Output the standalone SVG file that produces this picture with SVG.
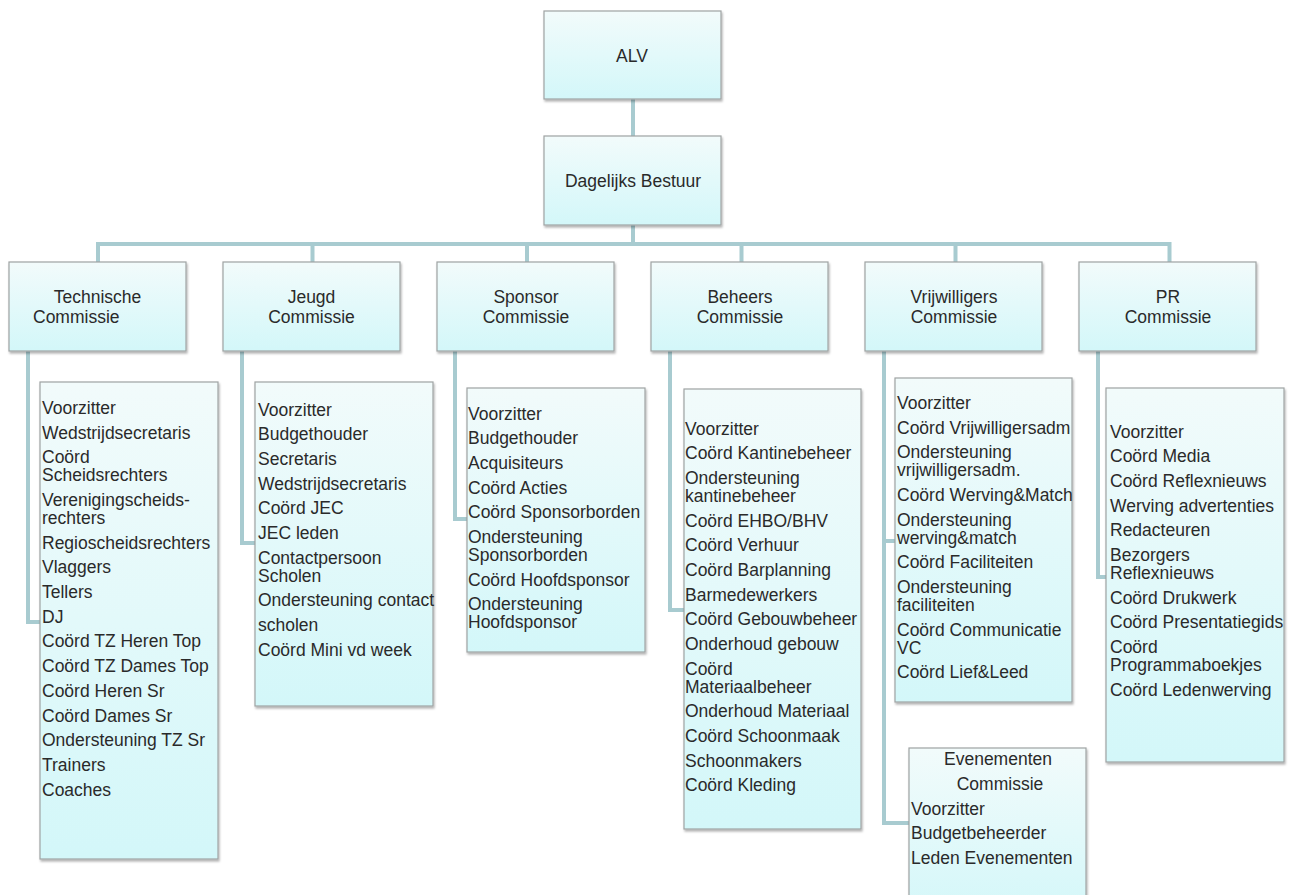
<svg xmlns="http://www.w3.org/2000/svg" width="1297" height="895" viewBox="0 0 1297 895">
<style>
.box{fill:url(#g);stroke:#9fa3a3;stroke-width:1.2;filter:url(#sh)}
.con{fill:none;stroke:#a8cbd0;stroke-width:4}
text{font-family:"Liberation Sans",Arial,sans-serif;font-size:17.5px;fill:#2a2a2a}
.c{text-anchor:middle}
</style>
<defs>
<linearGradient id="g" x1="0" y1="0" x2="0" y2="1">
<stop offset="0" stop-color="#f2fbfb"/>
<stop offset="1" stop-color="#d3f7f9"/>
</linearGradient>
<filter id="sh" x="-5%" y="-5%" width="115%" height="115%">
<feDropShadow dx="1" dy="2" stdDeviation="1.2" flood-color="#000" flood-opacity="0.3"/>
</filter>
</defs>
<rect width="1297" height="895" fill="#ffffff"/>
<g id="connectors">
<path class="con" d="M633,99 V136"/>
<path class="con" d="M633,225 V244"/>
<path class="con" d="M98,262 V244 H1169.5 V262"/>
<path class="con" d="M312.5,244 V262 M527,244 V262 M741.5,244 V262 M955.5,244 V262"/>
<path class="con" d="M28,351 V622 H40"/>
<path class="con" d="M242,351 V543 H255"/>
<path class="con" d="M455,351 V519 H467"/>
<path class="con" d="M670,351 V610 H684"/>
<path class="con" d="M884,351 V823 H909"/>
<path class="con" d="M884,541 H895"/>
<path class="con" d="M1098,351 V577 H1106"/>
</g>
<g id="alv">
<rect class="box" x="544" y="11" width="177" height="88"/>
<text class="c" x="632" y="62">ALV</text>
</g>
<g id="dagelijks-bestuur">
<rect class="box" x="544" y="136" width="177" height="89"/>
<text class="c" x="633" y="187">Dagelijks Bestuur</text>
</g>
<g id="technische-commissie">
<rect class="box" x="9" y="262" width="177" height="89"/>
<text class="c" x="97.5" y="303">Technische</text>
<text x="33" y="323">Commissie</text>
</g>
<g id="jeugd-commissie">
<rect class="box" x="223" y="262" width="177" height="89"/>
<text class="c" x="311.5" y="303">Jeugd</text>
<text class="c" x="311.5" y="323">Commissie</text>
</g>
<g id="sponsor-commissie">
<rect class="box" x="437" y="262" width="177" height="89"/>
<text class="c" x="526" y="303">Sponsor</text>
<text class="c" x="526" y="323">Commissie</text>
</g>
<g id="beheers-commissie">
<rect class="box" x="651" y="262" width="177" height="89"/>
<text class="c" x="740" y="303">Beheers</text>
<text class="c" x="740" y="323">Commissie</text>
</g>
<g id="vrijwilligers-commissie">
<rect class="box" x="865" y="262" width="177" height="89"/>
<text class="c" x="954" y="303">Vrijwilligers</text>
<text class="c" x="954" y="323">Commissie</text>
</g>
<g id="pr-commissie">
<rect class="box" x="1079" y="262" width="177" height="89"/>
<text class="c" x="1168" y="303">PR</text>
<text class="c" x="1168" y="323">Commissie</text>
</g>
<g id="technische-leden">
<rect class="box" x="40" y="382" width="178" height="477"/>
<text x="42" y="414">Voorzitter</text>
<text x="42" y="438.7">Wedstrijdsecretaris</text>
<text x="42" y="463.4">Coörd</text>
<text x="42" y="481.3">Scheidsrechters</text>
<text x="42" y="506">Verenigingscheids-</text>
<text x="42" y="523.9">rechters</text>
<text x="42" y="548.6">Regioscheidsrechters</text>
<text x="42" y="573.3">Vlaggers</text>
<text x="42" y="598">Tellers</text>
<text x="42" y="622.7">DJ</text>
<text x="42" y="647.4">Coörd TZ Heren Top</text>
<text x="42" y="672.1">Coörd TZ Dames Top</text>
<text x="42" y="696.8">Coörd Heren Sr</text>
<text x="42" y="721.5">Coörd Dames Sr</text>
<text x="42" y="746.2">Ondersteuning TZ Sr</text>
<text x="42" y="770.9">Trainers</text>
<text x="42" y="795.6">Coaches</text>
</g>
<g id="jeugd-leden">
<rect class="box" x="255" y="382" width="178" height="324"/>
<text x="258" y="415.5">Voorzitter</text>
<text x="258" y="440.2">Budgethouder</text>
<text x="258" y="464.9">Secretaris</text>
<text x="258" y="489.6">Wedstrijdsecretaris</text>
<text x="258" y="514.3">Coörd JEC</text>
<text x="258" y="539">JEC leden</text>
<text x="258" y="563.7">Contactpersoon</text>
<text x="258" y="581.6">Scholen</text>
<text x="258" y="606.3">Ondersteuning contact</text>
<text x="258" y="631">scholen</text>
<text x="258" y="655.7">Coörd Mini vd week</text>
</g>
<g id="sponsor-leden">
<rect class="box" x="467" y="388" width="178" height="264"/>
<text x="468" y="419.5">Voorzitter</text>
<text x="468" y="444.2">Budgethouder</text>
<text x="468" y="468.9">Acquisiteurs</text>
<text x="468" y="493.6">Coörd Acties</text>
<text x="468" y="518.3">Coörd Sponsorborden</text>
<text x="468" y="543">Ondersteuning</text>
<text x="468" y="560.9">Sponsorborden</text>
<text x="468" y="585.6">Coörd Hoofdsponsor</text>
<text x="468" y="610.3">Ondersteuning</text>
<text x="468" y="628.2">Hoofdsponsor</text>
</g>
<g id="beheers-leden">
<rect class="box" x="684" y="389" width="177" height="440"/>
<text x="685" y="434.5">Voorzitter</text>
<text x="685" y="459.2">Coörd Kantinebeheer</text>
<text x="685" y="483.9">Ondersteuning</text>
<text x="685" y="501.8">kantinebeheer</text>
<text x="685" y="526.5">Coörd EHBO/BHV</text>
<text x="685" y="551.2">Coörd Verhuur</text>
<text x="685" y="575.9">Coörd Barplanning</text>
<text x="685" y="600.6">Barmedewerkers</text>
<text x="685" y="625.3">Coörd Gebouwbeheer</text>
<text x="685" y="650">Onderhoud gebouw</text>
<text x="685" y="674.7">Coörd</text>
<text x="685" y="692.6">Materiaalbeheer</text>
<text x="685" y="717.3">Onderhoud Materiaal</text>
<text x="685" y="742">Coörd Schoonmaak</text>
<text x="685" y="766.7">Schoonmakers</text>
<text x="685" y="791.4">Coörd Kleding</text>
</g>
<g id="vrijwilligers-leden">
<rect class="box" x="895" y="378" width="177" height="324"/>
<text x="897" y="409">Voorzitter</text>
<text x="897" y="433.7">Coörd Vrijwilligersadm</text>
<text x="897" y="458.4">Ondersteuning</text>
<text x="897" y="476.3">vrijwilligersadm.</text>
<text x="897" y="501">Coörd Werving&amp;Match</text>
<text x="897" y="525.7">Ondersteuning</text>
<text x="897" y="543.6">werving&amp;match</text>
<text x="897" y="568.3">Coörd Faciliteiten</text>
<text x="897" y="593">Ondersteuning</text>
<text x="897" y="610.9">faciliteiten</text>
<text x="897" y="635.6">Coörd Communicatie</text>
<text x="897" y="653.5">VC</text>
<text x="897" y="678.2">Coörd Lief&amp;Leed</text>
</g>
<g id="pr-leden">
<rect class="box" x="1106" y="388" width="178" height="374"/>
<text x="1110" y="437.5">Voorzitter</text>
<text x="1110" y="462.2">Coörd Media</text>
<text x="1110" y="486.9">Coörd Reflexnieuws</text>
<text x="1110" y="511.6">Werving advertenties</text>
<text x="1110" y="536.3">Redacteuren</text>
<text x="1110" y="561">Bezorgers</text>
<text x="1110" y="578.9">Reflexnieuws</text>
<text x="1110" y="603.6">Coörd Drukwerk</text>
<text x="1110" y="628.3">Coörd Presentatiegids</text>
<text x="1110" y="653">Coörd</text>
<text x="1110" y="670.9">Programmaboekjes</text>
<text x="1110" y="695.6">Coörd Ledenwerving</text>
</g>
<g id="evenementen-commissie">
<rect class="box" x="909" y="748" width="177" height="170"/>
<text class="c" x="998" y="765">Evenementen</text>
<text class="c" x="1000" y="790">Commissie</text>
<text x="911" y="814.5">Voorzitter</text>
<text x="911" y="839">Budgetbeheerder</text>
<text x="911" y="864">Leden Evenementen</text>
</g>
</svg>
